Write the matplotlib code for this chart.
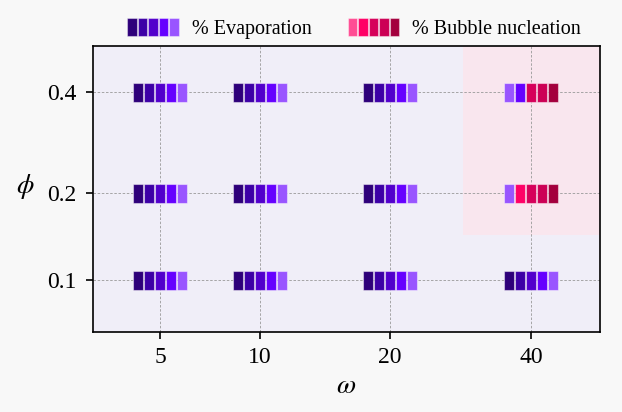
import matplotlib
matplotlib.use("Agg")
import matplotlib.pyplot as plt
from matplotlib.patches import Rectangle
from matplotlib.legend_handler import HandlerBase

plt.rcParams["font.family"] = ["Liberation Serif", "DejaVu Serif"]
plt.rcParams["mathtext.fontset"] = "stix"

# data
omega = [5, 10, 20, 40]
phi = [0.1, 0.2, 0.4]
# number of squares (out of 5) that are evaporation, rows = phi, cols = omega
evap_n = [
    [5, 5, 5, 5],  # phi 0.1
    [5, 5, 5, 1],  # phi 0.2
    [5, 5, 5, 2],  # phi 0.4
]

evap_cols = ["#2e007a", "#3d00a6", "#5200cc", "#6600ff", "#9955ff"]
bub_cols = ["#ff4d94", "#ff0066", "#d6005a", "#cc0055", "#a3003d"]

# layout of the categories on the axes
xpos = [0, 1.0, 2.3, 3.71]
ypos = [0, 0.87, 1.88]
sq_w, sq_gap, sq_h = 0.10, 0.011, 0.19


class Waffle:
    def __init__(self, colors):
        self.colors = colors


class WaffleHandler(HandlerBase):
    def create_artists(self, legend, orig_handle, xdescent, ydescent,
                       width, height, fontsize, trans):
        n = len(orig_handle.colors)
        w = width / n
        arts = []
        for i, c in enumerate(orig_handle.colors):
            r = Rectangle((-xdescent + i * w, -ydescent), w * 0.9, height,
                          facecolor=c, edgecolor=(1, 1, 1, 0.4), lw=0.8, transform=trans)
            arts.append(r)
        return arts


fig = plt.figure(figsize=(6.22, 4.12), dpi=100, facecolor="#f8f8f8")
ax = fig.add_axes([93 / 622, (412 - 332) / 412, (600 - 93) / 622, (332 - 46) / 412])
ax.set_facecolor("#f0eef8")

xlo, xhi = -0.67, 4.40
ylo, yhi = -0.52, 2.34
ax.set_xlim(xlo, xhi)
ax.set_ylim(ylo, yhi)

# shaded region where bubble nucleation shows up
ax.add_patch(Rectangle((3.03, 0.45), xhi - 3.03, yhi - 0.45, facecolor="#f9e6ee",
                       edgecolor="none", zorder=0))

ax.grid(True, ls=(0, (3, 2)), color="#999999", lw=0.6, zorder=1)
ax.set_axisbelow(True)

for i, yp in enumerate(ypos):
    for j, xp in enumerate(xpos):
        n = evap_n[i][j]
        if n == 5:
            cols = evap_cols
        else:
            cols = evap_cols[::-1][:n] + bub_cols[n:]
        total = 5 * sq_w + 4 * sq_gap
        x0 = xp - total / 2
        for k, c in enumerate(cols):
            ax.add_patch(Rectangle((x0 + k * (sq_w + sq_gap), yp - sq_h / 2), sq_w, sq_h,
                                   facecolor=c, edgecolor=(1, 1, 1, 0.45), lw=0.8, zorder=3))

ax.set_xticks(xpos)
ax.set_xticklabels([str(o) for o in omega])
ax.set_yticks(ypos)
ax.set_yticklabels([str(p) for p in phi])
ax.tick_params(labelsize=17, length=5, width=1.2, direction="out")
ax.tick_params(axis="y", pad=7)
ax.tick_params(axis="x", pad=6)
for s in ax.spines.values():
    s.set_linewidth(1.2)

ax.set_xlabel(r"$\omega$", fontsize=20, labelpad=4)
ax.set_ylabel(r"$\phi$", fontsize=20, rotation=0, va="center", ha="center")
ax.yaxis.set_label_coords(-0.134, 0.507)

handles = [Waffle(evap_cols), Waffle(bub_cols)]
labels = ["% Evaporation", "% Bubble nucleation"]
ax.legend(handles, labels, handler_map={Waffle: WaffleHandler()}, ncol=2,
          loc="lower center", bbox_to_anchor=(0.515, 0.99), frameon=False,
          fontsize=14.5, handlelength=2.6, handleheight=0.95, columnspacing=1.8,
          handletextpad=0.6, borderaxespad=0.1)

fig.savefig("out.png", dpi=100, facecolor=fig.get_facecolor())
